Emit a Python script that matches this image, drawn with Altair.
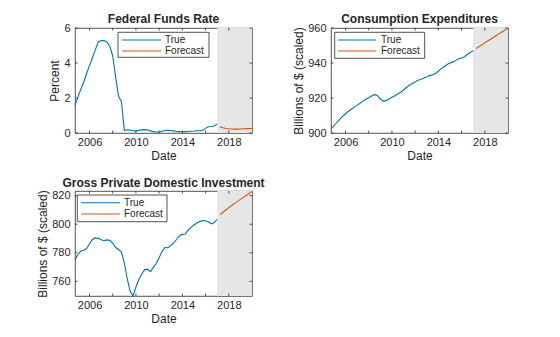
import altair as alt
import pandas as pd

FONT = "Liberation Sans"
INK = "#262626"
BLUE = "#0072BD"
ORANGE = "#D95319"
SHADE = "#E6E6E6"
W, H = 177, 105

# ---- data ----
start_year = 2004.75
t_true = [start_year + 0.25 * i for i in range(50)]
t_fc = [2017.25 + 0.25 * i for i in range(12)]
shade_span = [2017.0, 2020.0]
x_domain = [2004.75, 2020.0]
x_labels = [2006, 2010, 2014, 2018]
x_ticks = [2006, 2008, 2010, 2012, 2014, 2016, 2018]
legend_labels = ["True", "Forecast"]

ffr_true = [1.60, 2.05, 2.50, 2.90, 3.40, 3.85, 4.30, 4.75, 5.20, 5.28,
            5.28, 5.20, 4.95, 4.40, 3.20, 2.10, 1.80, 0.15, 0.18, 0.17,
            0.13, 0.12, 0.15, 0.18, 0.19, 0.17, 0.12, 0.08, 0.06, 0.06,
            0.10, 0.14, 0.15, 0.14, 0.12, 0.09, 0.08, 0.07, 0.08, 0.09,
            0.10, 0.11, 0.13, 0.13, 0.16, 0.28, 0.36, 0.37, 0.40, 0.52]
ffr_fc = [0.35, 0.30, 0.26, 0.24, 0.23, 0.22, 0.22, 0.23, 0.24, 0.25, 0.25, 0.26]

pce_true = [902.3, 904.0, 906.0, 907.8, 909.5, 911.0, 912.4, 913.6, 914.8, 915.8,
            917.0, 918.2, 919.3, 920.2, 921.1, 921.9, 921.5, 919.4, 918.2, 918.5,
            919.4, 920.4, 921.3, 922.3, 923.3, 924.6, 926.0, 927.3, 928.3, 929.2,
            930.1, 930.7, 931.4, 932.0, 932.8, 933.3, 934.0, 935.3, 936.8, 937.9,
            939.1, 940.0, 940.5, 941.5, 942.4, 942.9, 943.6, 945.0, 946.0, 947.0]
pce_fc = [948.2, 949.3, 950.4, 951.5, 952.6, 953.6, 954.7, 955.7, 956.8, 957.9, 958.9, 960.0]

gpdi_true = [775.2, 778.8, 781.2, 781.8, 783.0, 786.3, 789.3, 790.4, 790.1, 789.2,
             788.5, 789.0, 788.7, 786.8, 783.7, 782.3, 780.5, 773.0, 761.8, 753.0,
             749.8, 756.0, 761.2, 765.0, 768.2, 768.5, 766.8, 769.8, 772.5, 776.5,
             781.0, 783.7, 783.5, 785.0, 787.0, 789.3, 791.8, 792.9, 793.2, 795.8,
             797.8, 799.5, 800.9, 801.9, 802.5, 802.4, 801.6, 800.3, 801.2, 803.5]
gpdi_fc = [806.7, 808.4, 810.0, 811.6, 813.1, 814.6, 816.0, 817.4, 818.8, 820.2, 821.6, 823.0]


def panel(title, ytitle, true_vals, fc_vals, ydom, yticks, leg, toff):
    xs = alt.Scale(domain=x_domain, nice=False, zero=False)
    ys = alt.Scale(domain=ydom, nice=False, zero=False)
    xenc = alt.X("t:Q", scale=xs,
                 axis=alt.Axis(values=x_labels, format="d", title="Date", ticks=False,
                               domain=False, grid=False, labelPadding=3, titlePadding=3))
    yenc = alt.Y("v:Q", scale=ys,
                 axis=alt.Axis(values=yticks, title=ytitle, ticks=False, domain=False,
                               grid=False, labelPadding=5, titlePadding=2))

    shade_df = pd.DataFrame({"t": [shade_span[0]], "t2": [shade_span[1]],
                             "v": [ydom[0]], "v2": [ydom[1]]})
    shade = alt.Chart(shade_df).mark_rect(color=SHADE).encode(
        x=xenc, x2="t2:Q", y=yenc, y2="v2:Q")

    true_line = alt.Chart(pd.DataFrame({"t": t_true, "v": true_vals})).mark_line(
        color=BLUE, strokeWidth=1.1).encode(x=xenc, y=yenc)
    fc_line = alt.Chart(pd.DataFrame({"t": t_fc, "v": fc_vals})).mark_line(
        color=ORANGE, strokeWidth=1.1).encode(x=xenc, y=yenc)

    xt = pd.DataFrame({"t": x_ticks})
    yt = pd.DataFrame({"v": yticks})
    tk = 2.5
    tick_layers = [
        alt.Chart(xt).mark_rule(color=INK, strokeWidth=0.8).encode(
            x=xenc, y=alt.value(H), y2=alt.value(H - tk)),
        alt.Chart(xt).mark_rule(color=INK, strokeWidth=0.8).encode(
            x=xenc, y=alt.value(0), y2=alt.value(tk)),
        alt.Chart(yt).mark_rule(color=INK, strokeWidth=0.8).encode(
            y=yenc, x=alt.value(0), x2=alt.value(tk)),
        alt.Chart(yt).mark_rule(color=INK, strokeWidth=0.8).encode(
            y=yenc, x=alt.value(W), x2=alt.value(W - tk)),
    ]

    one = pd.DataFrame({"a": [0]})
    bx0, bx1, by0, by1, lx0, lx1, tx, r1, r2 = leg
    box = alt.Chart(one).mark_rect(fill="white", stroke=INK, strokeWidth=0.8).encode(
        x=alt.value(bx0), x2=alt.value(bx1), y=alt.value(by0), y2=alt.value(by1))
    legend_layers = [box]
    for lab, col, ry in zip(legend_labels, [BLUE, ORANGE], [r1, r2]):
        legend_layers.append(alt.Chart(one).mark_rule(color=col, strokeWidth=1.1).encode(
            x=alt.value(lx0), x2=alt.value(lx1), y=alt.value(ry)))
        legend_layers.append(alt.Chart(one).mark_text(
            align="left", baseline="middle", font=FONT, fontSize=10, color=INK).encode(
            x=alt.value(tx), y=alt.value(ry), text=alt.value(lab)))

    return alt.layer(shade, true_line, fc_line, *tick_layers, *legend_layers).properties(
        width=W, height=H,
        title=alt.TitleParams(title, font=FONT, fontSize=12, fontWeight="bold",
                              color=INK, offset=toff, anchor="middle", frame="group"))


p1 = panel("Federal Funds Rate", "Percent", ffr_true, ffr_fc, [0, 6], [0, 2, 4, 6],
           (43, 134, 4.3, 29.3, 47, 86, 90, 12, 23), -4)
p2 = panel("Consumption Expenditures", "Billions of $ (scaled)", pce_true, pce_fc,
           [900, 960], [900, 920, 940, 960], (3.7, 93.7, 4.3, 30.3, 7, 45, 50, 12, 23), -4)
p3 = panel("Gross Private Domestic Investment", "Billions of $ (scaled)", gpdi_true, gpdi_fc,
           [749.7, 823.3], [760, 780, 800, 820], (2.3, 92, 4, 30.7, 6, 45, 49, 11.7, 23), -1)

chart = alt.concat(p1, p2, p3, columns=2, spacing=alt.RowColnumber(row=58, column=79),
                   bounds="flush").configure(
    padding={"left": 36, "top": 12, "right": 5, "bottom": 5},
    background="white",
).configure_view(stroke=INK, strokeWidth=0.8).configure_axis(
    labelFont=FONT, labelFontSize=11, labelColor=INK,
    titleFont=FONT, titleFontSize=12, titleColor=INK, titleFontWeight="normal")

chart.save("out.html", embed_options={"renderer": "svg", "actions": False})
